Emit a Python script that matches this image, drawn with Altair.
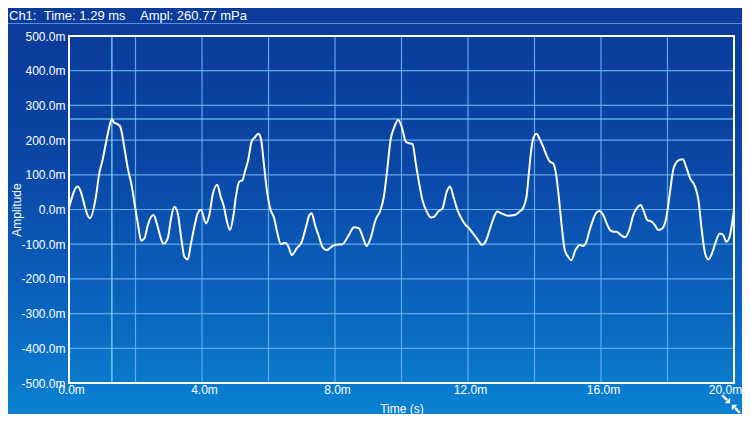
import altair as alt
import pandas as pd

# ---- data ----
times = [0.00, 0.26, 0.63, 0.81, 0.91, 1.01, 1.11, 1.18, 1.29, 1.36, 1.46, 1.54, 1.66, 1.76, 1.89, 1.97,
         2.07, 2.17, 2.27, 2.37, 2.54, 2.64, 2.72, 2.84, 2.97, 3.07, 3.17, 3.27, 3.37, 3.47, 3.57, 3.67,
         3.77, 3.87, 3.97, 4.12, 4.22, 4.32, 4.46, 4.56, 4.66, 4.74, 4.84, 4.94, 5.02, 5.12, 5.22, 5.29,
         5.39, 5.49, 5.59, 5.69, 5.77, 5.86, 5.95, 6.05, 6.17, 6.27, 6.37, 6.50, 6.60, 6.70, 6.85, 7.00,
         7.13, 7.23, 7.30, 7.40, 7.50, 7.63, 7.75, 7.90, 8.00, 8.22, 8.42, 8.57, 8.72, 8.85, 8.95, 9.07,
         9.22, 9.37, 9.47, 9.57, 9.67, 9.77, 9.90, 10.02, 10.13, 10.23, 10.33, 10.43, 10.53, 10.63, 10.76,
         10.88, 10.98, 11.10, 11.23, 11.36, 11.46, 11.56, 11.68, 11.80, 11.93, 12.03, 12.15, 12.30, 12.42,
         12.55, 12.65, 12.75, 12.88, 13.00, 13.20, 13.40, 13.55, 13.65, 13.76, 13.83, 13.90, 13.98, 14.06,
         14.16, 14.26, 14.36, 14.46, 14.56, 14.66, 14.73, 14.81, 14.91, 15.01, 15.11, 15.23, 15.36, 15.46,
         15.56, 15.66, 15.76, 15.86, 15.96, 16.07, 16.17, 16.27, 16.37, 16.47, 16.59, 16.72, 16.85, 16.97,
         17.07, 17.19, 17.29, 17.39, 17.52, 17.62, 17.72, 17.85, 17.97, 18.07, 18.17, 18.26, 18.36, 18.46,
         18.56, 18.68, 18.83, 18.93, 19.03, 19.13, 19.23, 19.34, 19.44, 19.57, 19.67, 19.77, 19.87, 19.97,
         20.00]
amps = [5, 66, -25, 37, 104, 143, 191, 224, 260.77, 250, 246, 239, 181, 123, 66, 18,
        -40, -90, -83, -45, -16, -40, -69, -99, -83, -25, 8, -11, -78, -136, -144, -97,
        -50, -11, -1, -40, -16, 42, 71, 37, 8, -30, -59, -21, 37, 80, 85, 109,
        143, 195, 208, 218, 205, 133, 56, 3, -25, -69, -100, -96, -107, -131, -112, -93,
        -50, -16, -11, -45, -73, -109, -117, -107, -102, -100, -73, -51, -54, -83, -105, -83,
        -30, -1, 37, 114, 200, 234, 258, 234, 195, 191, 189, 133, 76, 27, -6,
        -23, -21, -6, 3, 51, 66, 37, -1, -25, -45, -54, -69, -88, -102,
        -88, -59, -30, -6, -11, -18, -16, -6, 3, 37, 104, 171, 210, 218,
        202, 181, 157, 138, 133, 95, 37, -40, -117, -136, -146, -117, -102, -105,
        -93, -59, -30, -9, -4, -16, -40, -59, -64, -64, -73, -80, -59, -16,
        3, 13, -6, -30, -35, -45, -59, -54, -21, 47, 114, 135, 143, 145,
        123, 90, 66, 27, -59, -126, -144, -126, -97, -69, -73, -93, -78, -21,
        0]

x_grid = [2, 4, 6, 8, 10, 12, 14, 16, 18]
y_grid = [-400, -300, -200, -100, 0, 100, 200, 300, 400]
x_ticks = [0, 2, 4, 6, 8, 10, 12, 14, 16, 18, 20]
y_ticks = [-500, -400, -300, -200, -100, 0, 100, 200, 300, 400, 500]
cursor_time = [1.29]
cursor_ampl = [260.77]
NB = "\u00a0"
header_text = "Ch1:" + NB * 2 + "Time: 1.29 ms" + NB * 4 + "Ampl: 260.77 mPa"
x_title = "Time (s)"
y_title = "Amplitude"

# ---- layout / style ----
W, H = 665, 347
PAD_L, PAD_T, PAD_R, PAD_B = 61, 28, 8, 31
FONT = "Liberation Sans"

xs = alt.Scale(domain=[0, 20], nice=False, zero=False)
ys = alt.Scale(domain=[-500, 500], nice=False, zero=False)

xaxis = alt.Axis(values=x_ticks, grid=False, domain=False, ticks=False, zindex=1,
                 labelExpr="datum.value % 4 == 0 ? format(datum.value, '.1f') + 'm' : ''",
                 labelColor="white", labelFont=FONT, labelFontSize=12, labelPadding=1.5,
                 labelOverlap=False, labelFlush=False,
                 labelOffset={"condition": {"test": "datum.value >= 20", "value": -9}, "value": 2},
                 title=x_title, titleColor="white", titleFont=FONT, titleFontSize=12,
                 titleFontWeight="normal", titleY=29, titleBaseline="alphabetic")
yaxis = alt.Axis(values=y_ticks, grid=False, domain=False, ticks=False, zindex=1,
                 labelExpr="(datum.value < 0 ? '-' : '') + format(abs(datum.value), '.1f') + 'm'",
                 labelColor="white", labelFont=FONT, labelFontSize=12, labelPadding=4,
                 labelOverlap=False,
                 title=y_title, titleColor="white", titleFont=FONT, titleFontSize=12,
                 titleFontWeight="normal", titleAngle=-90, titleX=-49, titleY=H / 2,
                 titleBaseline="alphabetic", titleAlign="center")

X = alt.X("time:Q", scale=xs, axis=xaxis)
Y = alt.Y("amp:Q", scale=ys, axis=yaxis)

one = pd.DataFrame({"k": [0]})
wave = pd.DataFrame({"time": times, "amp": amps})

grad = alt.LinearGradient(
    gradient="linear", x1=0, x2=0, y1=0, y2=1,
    stops=[alt.GradientStop(color="#0b3b9b", offset=0),
           alt.GradientStop(color="#0b46a5", offset=0.35),
           alt.GradientStop(color="#0a62bd", offset=0.7),
           alt.GradientStop(color="#0a82d2", offset=1)])

bg = alt.Chart(one).mark_rect(color=grad, strokeWidth=0).encode(
    x=alt.value(-PAD_L), x2=alt.value(W + PAD_R), y=alt.value(-12), y2=alt.value(H + PAD_B))

header_line = alt.Chart(one).mark_rule(color="#5b8fd6", strokeWidth=1).encode(
    x=alt.value(-PAD_L), x2=alt.value(W + PAD_R), y=alt.value(-12.5))

header = alt.Chart(one).mark_text(text=header_text, align="left", baseline="alphabetic",
                                  font=FONT, fontSize=13, color="white").encode(
    x=alt.value(-60), y=alt.value(-16))

vgrid = alt.Chart(pd.DataFrame({"time": x_grid})).mark_rule(
    color="#6cb2f2", strokeWidth=1.2, opacity=0.9).encode(x=X, y=alt.value(0), y2=alt.value(H))
hgrid = alt.Chart(pd.DataFrame({"amp": y_grid})).mark_rule(
    color="#6cb2f2", strokeWidth=1.2, opacity=0.9).encode(y=Y, x=alt.value(0), x2=alt.value(W))

vcur = alt.Chart(pd.DataFrame({"time": cursor_time})).mark_rule(
    color="#7fe4ff", strokeWidth=1.2).encode(x=X, y=alt.value(0), y2=alt.value(H))
hcur = alt.Chart(pd.DataFrame({"amp": cursor_ampl})).mark_rule(
    color="#7fe4ff", strokeWidth=1.2).encode(y=Y, x=alt.value(0), x2=alt.value(W))

line = alt.Chart(wave).mark_line(color="white", strokeWidth=2, interpolate="monotone").encode(x=X, y=Y)

border = alt.Chart(one).mark_rect(filled=False, stroke="white", strokeWidth=2).encode(
    x=alt.value(0), x2=alt.value(W), y=alt.value(0), y2=alt.value(H))

icon_path = ("M -0.08 -0.08 L -0.62 -0.08 L -0.08 -0.62 Z "
             "M -0.95 -0.78 L -0.78 -0.95 L -0.3 -0.47 L -0.47 -0.3 Z "
             "M 0.08 0.08 L 0.62 0.08 L 0.08 0.62 Z "
             "M 0.95 0.78 L 0.78 0.95 L 0.3 0.47 L 0.47 0.3 Z")
icon = alt.Chart(one).mark_point(shape=icon_path, filled=True, color="white", size=420,
                                 opacity=1, strokeWidth=0).encode(
    x=alt.value(662), y=alt.value(368))

chart = alt.layer(bg, header_line, header, vgrid, hgrid, vcur, hcur, line, border, icon).properties(
    width=W, height=H,
    padding={"left": PAD_L, "top": PAD_T, "right": PAD_R, "bottom": PAD_B},
    autosize=alt.AutoSizeParams(type="none"),
    background="#0b3b9b",
).configure_view(strokeWidth=0)

chart.save("out.html", embed_options={"renderer": "svg", "actions": False})
